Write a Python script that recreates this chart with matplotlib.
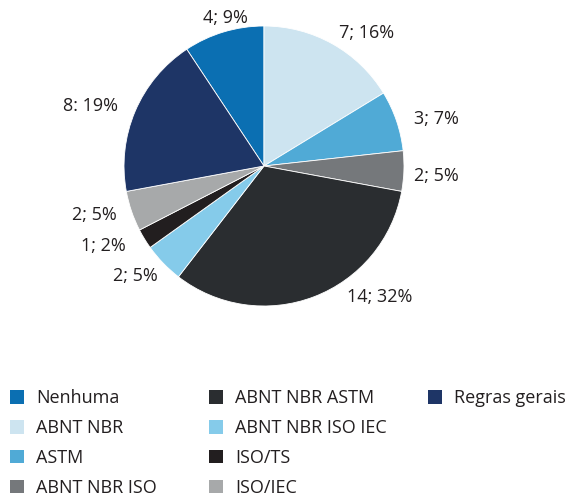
import matplotlib.pyplot as plt
import numpy as np
from matplotlib.patches import Patch

plt.rcParams['font.family'] = ['Open Sans', 'DejaVu Sans']

categorias = ["Nenhuma", "ABNT NBR", "ASTM", "ABNT NBR ISO", "ABNT NBR ASTM",
              "ABNT NBR ISO IEC", "ISO/TS", "ISO/IEC", "Regras gerais"]
valores = [4, 7, 3, 2, 14, 2, 1, 2, 8]
rotulos = ["4; 9%", "7; 16%", "3; 7%", "2; 5%", "14; 32%", "2; 5%", "1; 2%", "2; 5%", "8: 19%"]
cores = ["#0b6fb2", "#cde4f0", "#50aad6", "#75787b", "#2a2d30",
         "#85cbea", "#221e1f", "#a7a9aa", "#1e3566"]

# posicao dos rotulos (angulo em graus, distancia relativa ao raio)
pos_rotulos = [(104.8, 1.09), (52.2, 1.20), (15.2, 1.28), (-3.3, 1.23), (-48.7, 1.25),
               (-139.5, 1.21), (-153.6, 1.28), (-163.8, 1.26), (161.0, 1.31)]

W, H = 570, 498
fig = plt.figure(figsize=(W / 100, H / 100), dpi=100)

cx, cy, r = 264, 166, 140
ax = fig.add_axes([(cx - r) / W, (H - cy - r) / H, 2 * r / W, 2 * r / H])

total = sum(valores)
inicio = 90 + 360 * valores[0] / total
wedges, _ = ax.pie(valores, colors=cores, startangle=inicio, counterclock=False,
                   radius=1, wedgeprops=dict(edgecolor="white", linewidth=0.6))
ax.set_xlim(-1, 1)
ax.set_ylim(-1, 1)
ax.set_aspect("equal")
ax.axis("off")

for texto, (ang, dist) in zip(rotulos, pos_rotulos):
    a = np.radians(ang)
    ax.text(dist * np.cos(a), dist * np.sin(a), texto, ha="center", va="center",
            fontsize=13, color="#231f20", clip_on=False)

# legenda em tres colunas
colunas = [(0, 4, 10), (4, 8, 209), (8, 9, 428)]
for ini, fim, x0 in colunas:
    handles = [Patch(facecolor=cores[i], edgecolor="none") for i in range(ini, fim)]
    fig.legend(handles, categorias[ini:fim], loc="upper left",
               bbox_to_anchor=(x0 / W, 1 - 389 / H), frameon=False, fontsize=13,
               handlelength=0.8, handleheight=0.8, handletextpad=0.65,
               labelspacing=0.66, borderpad=0, borderaxespad=0, labelcolor="#231f20")

fig.savefig("out.png", dpi=100)
